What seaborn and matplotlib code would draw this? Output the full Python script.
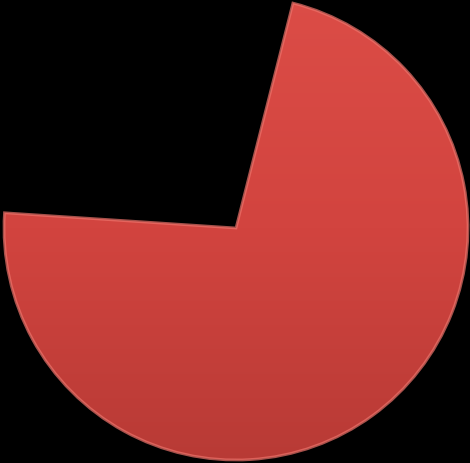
import matplotlib
matplotlib.use("Agg")
import matplotlib.pyplot as plt
import numpy as np
import seaborn as sns
from matplotlib.colors import LinearSegmentedColormap

# Data
labels = ["Filled", "Empty"]
shares = [72.1, 27.9]
colors = ["#CF4440", "#000000"]

sns.set_style("white")

fig = plt.figure(figsize=(4.70, 4.63), dpi=100, facecolor="black")
ax = fig.add_axes([0, 0, 1, 1])
ax.set_facecolor("black")

wedges, _ = ax.pie(shares, colors=colors, startangle=75.8, counterclock=False,
                   radius=1.0, wedgeprops={"linewidth": 0})
wedges[1].set_visible(False)

# top-to-bottom shading to mimic the bevelled look
shade = LinearSegmentedColormap.from_list("shade", ["#B73A35", "#D2443F", "#DC4D47"])
grad = np.linspace(0, 1, 256).reshape(-1, 1)
img = ax.imshow(grad, cmap=shade, extent=(-1.05, 1.05, -1.05, 1.05),
                origin="lower", aspect="auto", zorder=2)
img.set_clip_path(wedges[0])
wedges[0].set_facecolor("none")
wedges[0].set_edgecolor((0.93, 0.45, 0.42, 0.7))
wedges[0].set_linewidth(2.0)
wedges[0].set_zorder(3)

ax.set_xlim(-236 / 232, 234 / 232)
ax.set_ylim(-235 / 232, 228 / 232)
ax.set_aspect("equal")
ax.axis("off")

fig.savefig("out.png", dpi=100, facecolor="black")
